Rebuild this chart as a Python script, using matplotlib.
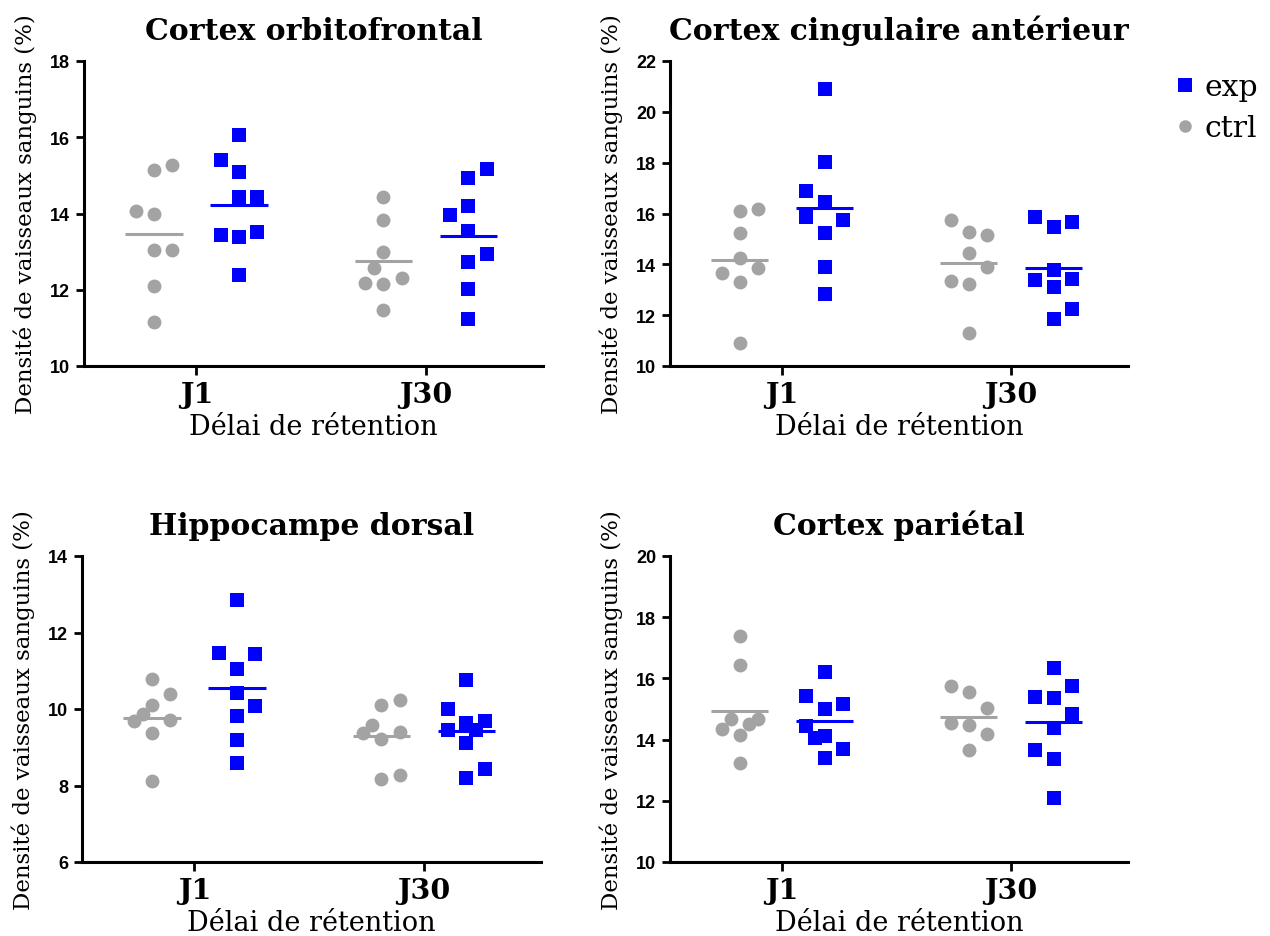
import numpy as np
import matplotlib
matplotlib.use("Agg")
import matplotlib.pyplot as plt
from matplotlib.lines import Line2D

# ---------------- data ----------------
titles = ["Cortex orbitofrontal", "Cortex cingulaire antérieur",
          "Hippocampe dorsal", "Cortex pariétal"]
days = ["J1", "J30"]
ylabel_text = "Densité de vaisseaux sanguins (%)"
xlabel_text = "Délai de rétention"
series_names = ["exp", "ctrl"]
y_limits = [(10, 18), (10, 22), (6, 14), (10, 20)]

# Cortex orbitofrontal
orbito_ctrl_j1 = [15.14, 15.26, 14.00, 14.07, 13.03, 13.03, 12.10, 11.16]
orbito_exp_j1 = [16.05, 14.42, 14.42, 15.08, 15.41, 13.39, 13.52, 13.43, 12.39]
orbito_ctrl_j30 = [14.44, 13.83, 13.00, 12.15, 12.30, 12.19, 12.58, 11.47]
orbito_exp_j30 = [14.92, 15.17, 14.20, 13.96, 13.53, 12.74, 12.95, 12.03, 11.22]

# Cortex cingulaire anterieur
cingul_ctrl_j1 = [16.11, 16.18, 15.22, 14.23, 13.29, 13.65, 13.84, 10.92]
cingul_exp_j1 = [20.88, 18.04, 16.44, 15.22, 15.74, 16.90, 15.87, 13.88, 12.85]
cingul_ctrl_j30 = [15.28, 15.15, 15.76, 14.44, 13.22, 13.88, 13.35, 11.29]
cingul_exp_j30 = [15.45, 15.65, 15.87, 13.09, 13.79, 13.42, 13.38, 11.84, 12.26]

# Hippocampe dorsal
hippo_ctrl_j1 = [10.79, 10.40, 10.10, 9.36, 9.69, 9.70, 9.88, 8.12]
hippo_exp_j1 = [12.84, 11.04, 11.43, 11.47, 10.42, 10.08, 9.83, 9.20, 8.59]
hippo_ctrl_j30 = [10.10, 10.24, 9.22, 9.37, 9.40, 9.57, 8.16, 8.28]
hippo_exp_j30 = [10.75, 9.64, 9.68, 9.99, 9.12, 9.46, 9.44, 8.20, 8.44]

# Cortex parietal
pariet_ctrl_j1 = [17.39, 16.45, 14.16, 13.25, 14.66, 14.36, 14.66, 14.50]
pariet_exp_j1 = [16.21, 15.01, 15.16, 15.41, 14.11, 13.40, 13.70, 14.45, 14.05]
pariet_ctrl_j30 = [15.56, 14.49, 14.19, 14.55, 15.04, 15.75, 13.65]
pariet_exp_j30 = [16.35, 15.36, 15.75, 15.39, 14.38, 14.85, 13.36, 13.65, 12.10]

panels = [
    (orbito_exp_j1, orbito_ctrl_j1, orbito_exp_j30, orbito_ctrl_j30),
    (cingul_exp_j1, cingul_ctrl_j1, cingul_exp_j30, cingul_ctrl_j30),
    (hippo_exp_j1, hippo_ctrl_j1, hippo_exp_j30, hippo_ctrl_j30),
    (pariet_exp_j1, pariet_ctrl_j1, pariet_exp_j30, pariet_ctrl_j30),
]

# ---------------- style ----------------
BLUE = "#0000FF"
GRAY = "#A3A3A3"
SERIF = ["DejaVu Serif"]
SANS = ["Liberation Sans", "DejaVu Sans"]

W, H = 1270, 937
axes_px = [  # left, top, right, bottom in pixels
    (84, 62, 543, 367),
    (670, 62, 1128, 367),
    (82, 557, 541, 863),
    (670, 557, 1128, 863),
]
group_shift = 0.185
col_step = 0.08
mean_half = 0.125
spacing_px = 17.0
slot_order = [1, 0.5, 1.5, 2, 2.5, 3]


def swarm(values, min_dy):
    """Greedy dot-plot arrangement: put each point in the central column
    unless it overlaps a point already there, then try side columns,
    balancing the number of points on both sides."""
    placed, cols = [], []
    for v in values:
        chosen = None
        if all(abs(v - pv) >= min_dy for pv, pc in zip(placed, cols) if pc == 0):
            chosen = 0
        else:
            for k in slot_order:
                npos = sum(1 for c in cols if c > 0)
                nneg = sum(1 for c in cols if c < 0)
                if npos < nneg:
                    cands = [k, -k]
                elif npos > nneg:
                    cands = [-k, k]
                else:
                    cands = [k, -k] if float(k).is_integer() else [-k, k]
                for c in cands:
                    if all(abs(v - pv) >= min_dy for pv, pc in zip(placed, cols) if pc == c):
                        chosen = c
                        break
                if chosen is not None:
                    break
        placed.append(v)
        cols.append(chosen)
    return np.array(cols, dtype=float)


fig = plt.figure(figsize=(W / 100, H / 100), dpi=100)

for i, (title, (ymin, ymax), data) in enumerate(zip(titles, y_limits, panels)):
    l, t, r, b = axes_px[i]
    ax = fig.add_axes([l / W, 1 - b / H, (r - l) / W, (b - t) / H])
    ax.set_xlim(-0.49, 1.51)
    ax.set_ylim(ymin, ymax)
    px_per_unit = (b - t) / (ymax - ymin)
    min_dy = spacing_px / px_per_unit
    exp_j1, ctrl_j1, exp_j30, ctrl_j30 = data
    for d, (exp_vals, ctrl_vals) in enumerate([(exp_j1, ctrl_j1), (exp_j30, ctrl_j30)]):
        for vals, shift, marker, color in [
            (ctrl_vals, -group_shift, "o", GRAY),
            (exp_vals, group_shift, "s", BLUE),
        ]:
            vals = np.asarray(vals)
            cx = d + shift
            xs = cx + swarm(vals, min_dy) * col_step
            ax.scatter(xs, vals, s=92 if marker == "s" else 100, marker=marker,
                       color=color, linewidths=0, zorder=3)
            ax.hlines(vals.mean(), cx - mean_half, cx + mean_half,
                      color=color, lw=2.2, zorder=4)

    for side in ["top", "right"]:
        ax.spines[side].set_visible(False)
    for side in ["left", "bottom"]:
        ax.spines[side].set_linewidth(2.2)
    ax.set_yticks(np.arange(ymin, ymax + 0.01, 2))
    ax.set_xticks([0, 1])
    ax.set_xticklabels(days, fontfamily=SERIF, fontweight="bold", fontsize=20.5)
    ax.tick_params(axis="y", direction="out", length=6, width=2, pad=4,
                   labelsize=13)
    ax.tick_params(axis="x", direction="out", length=6.5, width=2, pad=4)
    for lab in ax.get_yticklabels():
        lab.set_fontfamily(SANS)
        lab.set_fontweight("bold")
    ax.set_title(title, fontfamily=SERIF, fontweight="bold", fontsize=21.5, pad=16)
    ax.set_xlabel(xlabel_text, fontfamily=SERIF, fontsize=19.5, labelpad=4)
    ax.set_ylabel(ylabel_text, fontfamily=SERIF, fontsize=16.5, labelpad=9)

# legend (top right)
legend_x = 1185
legend_rows = [(86, "s", BLUE, 9.5), (127, "o", GRAY, 9.0)]
for (ypx, marker, color, msize), name in zip(legend_rows, series_names):
    fig.add_artist(Line2D([legend_x / W], [1 - ypx / H], transform=fig.transFigure,
                          marker=marker, color=color, linestyle="none",
                          markersize=msize, markeredgewidth=0))
    fig.text((legend_x + 19) / W, 1 - (ypx + 2) / H, name, fontfamily=SERIF,
             fontsize=21.5, va="center", ha="left")

fig.savefig("out.png", dpi=100)
